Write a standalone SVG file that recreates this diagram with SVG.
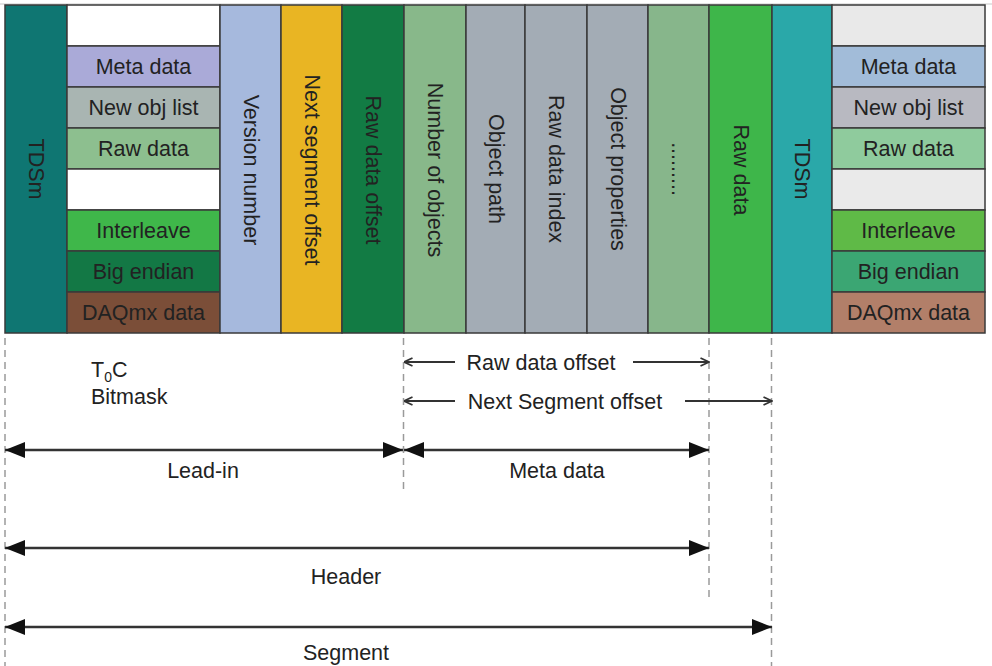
<svg xmlns="http://www.w3.org/2000/svg" width="992" height="666" viewBox="0 0 992 666">
  <style>
    .cell { stroke: #3a3a3a; stroke-width: 1.5; }
    .lbl { font-family: "Liberation Sans", Arial, sans-serif; font-size: 21.5px; fill: #222; }
    .mid { text-anchor: middle; }
    .dash { stroke: #9a9a9a; stroke-width: 1.5; stroke-dasharray: 7 5; fill: none; }
    .span { stroke: #333; stroke-width: 2.5; fill: none; marker-start: url(#solid); marker-end: url(#solid); }
    .ptr { stroke: #333; stroke-width: 2; fill: none; marker-end: url(#open); }
  </style>
  <defs>
    <marker id="solid" viewBox="0 0 20 16" refX="20" refY="8" markerWidth="20" markerHeight="16" markerUnits="userSpaceOnUse" orient="auto-start-reverse">
      <path d="M0,0 L20,8 L0,16 z" fill="#111"/>
    </marker>
    <marker id="open" viewBox="0 0 10 10" refX="9.5" refY="5" markerWidth="10" markerHeight="10" markerUnits="userSpaceOnUse" orient="auto">
      <path d="M1,1 L9.5,5 L1,9" fill="none" stroke="#333" stroke-width="1.8"/>
    </marker>
  </defs>

  <rect width="992" height="666" fill="#ffffff"/>
  <line x1="0" y1="4" x2="992" y2="4" stroke="#c8c8c8" stroke-width="1"/>

  <!-- lead-in marker + flag stack (left) -->
  <g id="tdsm-left">
    <rect class="cell" x="5" y="5" width="62" height="328" fill="#0f7672"/>
    <text class="lbl mid" transform="translate(36,169) rotate(90)" y="7">TDSm</text>
  </g>
  <g id="flags-left">
    <rect class="cell" x="67" y="5" width="153" height="41" fill="#ffffff"/>
    <rect class="cell" x="67" y="46" width="153" height="41" fill="#aaaad8"/>
    <rect class="cell" x="67" y="87" width="153" height="41" fill="#a9b5b2"/>
    <rect class="cell" x="67" y="128" width="153" height="41" fill="#8dbf8f"/>
    <rect class="cell" x="67" y="169" width="153" height="41" fill="#ffffff"/>
    <rect class="cell" x="67" y="210" width="153" height="41" fill="#3fb74a"/>
    <rect class="cell" x="67" y="251" width="153" height="41" fill="#137845"/>
    <rect class="cell" x="67" y="292" width="153" height="41" fill="#7b4e38"/>
    <text class="lbl mid" x="143.5" y="74">Meta data</text>
    <text class="lbl mid" x="143.5" y="115">New obj list</text>
    <text class="lbl mid" x="143.5" y="156">Raw data</text>
    <text class="lbl mid" x="143.5" y="238">Interleave</text>
    <text class="lbl mid" x="143.5" y="279">Big endian</text>
    <text class="lbl mid" x="143.5" y="320">DAQmx data</text>
  </g>
  <g id="version-number">
    <rect class="cell" x="220" y="5" width="61" height="328" fill="#a6b9dd"/>
    <text class="lbl mid" transform="translate(250.5,170) rotate(90)" y="7">Version number</text>
  </g>
  <g id="next-segment-offset">
    <rect class="cell" x="281" y="5" width="61" height="328" fill="#e9b523"/>
    <text class="lbl mid" transform="translate(311.5,170) rotate(90)" y="7">Next segment offset</text>
  </g>
  <g id="raw-data-offset">
    <rect class="cell" x="342" y="5" width="62" height="328" fill="#127b44"/>
    <text class="lbl mid" transform="translate(373,170) rotate(90)" y="7">Raw data offset</text>
  </g>

  <!-- metadata block -->
  <g id="number-of-objects">
    <rect class="cell" x="404" y="5" width="62" height="328" fill="#88b88a"/>
    <text class="lbl mid" transform="translate(435,170) rotate(90)" y="7">Number of objects</text>
  </g>
  <g id="object-path">
    <rect class="cell" x="466" y="5" width="59" height="328" fill="#a3acb5"/>
    <text class="lbl mid" transform="translate(495.5,169) rotate(90)" y="7">Object path</text>
  </g>
  <g id="raw-data-index">
    <rect class="cell" x="525" y="5" width="62" height="328" fill="#a3acb5"/>
    <text class="lbl mid" transform="translate(556,169) rotate(90)" y="7">Raw data index</text>
  </g>
  <g id="object-properties">
    <rect class="cell" x="587" y="5" width="61" height="328" fill="#a3acb5"/>
    <text class="lbl mid" transform="translate(617.5,169) rotate(90)" y="7">Object properties</text>
  </g>
  <g id="more-objects">
    <rect class="cell" x="648" y="5" width="61" height="328" fill="#87b68b"/>
    <text class="lbl mid" transform="translate(678.5,169) rotate(90)" y="7">.........</text>
  </g>
  <g id="raw-data">
    <rect class="cell" x="709" y="5" width="63" height="328" fill="#3eb64a"/>
    <text class="lbl mid" transform="translate(740.5,170) rotate(90)" y="7">Raw data</text>
  </g>

  <!-- start of the following segment -->
  <g id="tdsm-right">
    <rect class="cell" x="772" y="5" width="60" height="328" fill="#2aa8a9"/>
    <text class="lbl mid" transform="translate(802,169) rotate(90)" y="7">TDSm</text>
  </g>
  <g id="flags-right">
    <rect class="cell" x="832" y="5" width="153" height="41" fill="#e9e9e9"/>
    <rect class="cell" x="832" y="46" width="153" height="41" fill="#a2bcd9"/>
    <rect class="cell" x="832" y="87" width="153" height="41" fill="#b8b9c1"/>
    <rect class="cell" x="832" y="128" width="153" height="41" fill="#8fcb9d"/>
    <rect class="cell" x="832" y="169" width="153" height="41" fill="#eaeaea"/>
    <rect class="cell" x="832" y="210" width="153" height="41" fill="#5fba47"/>
    <rect class="cell" x="832" y="251" width="153" height="41" fill="#3ba673"/>
    <rect class="cell" x="832" y="292" width="153" height="41" fill="#b27f69"/>
    <text class="lbl mid" x="908.5" y="74">Meta data</text>
    <text class="lbl mid" x="908.5" y="115">New obj list</text>
    <text class="lbl mid" x="908.5" y="156">Raw data</text>
    <text class="lbl mid" x="908.5" y="238">Interleave</text>
    <text class="lbl mid" x="908.5" y="279">Big endian</text>
    <text class="lbl mid" x="908.5" y="320">DAQmx data</text>
  </g>

  <g id="toc-note">
    <text class="lbl" x="91" y="377">T<tspan font-size="14" dy="5">0</tspan><tspan dy="-5">C</tspan></text>
    <text class="lbl" x="91" y="404">Bitmask</text>
  </g>

  <!-- dimension lines -->
  <g id="connectors">
    <line class="dash" x1="5" y1="338" x2="5" y2="666"/>
    <line class="dash" x1="403.5" y1="338" x2="403.5" y2="490"/>
    <line class="dash" x1="709" y1="338" x2="709" y2="602"/>
    <line class="dash" x1="771.5" y1="338" x2="771.5" y2="666"/>

    <line class="ptr" x1="455" y1="362" x2="404" y2="362"/>
    <line class="ptr" x1="633" y1="362" x2="709" y2="362"/>
    <line class="ptr" x1="455" y1="401" x2="404" y2="401"/>
    <line class="ptr" x1="685" y1="401" x2="772" y2="401"/>

    <line class="span" x1="5" y1="450" x2="403" y2="450"/>
    <line class="span" x1="404" y1="450" x2="709" y2="450"/>
    <line class="span" x1="5" y1="548" x2="709" y2="548"/>
    <line class="span" x1="5" y1="627" x2="772" y2="627"/>
  </g>

  <g id="dimension-labels">
    <text class="lbl mid" x="541" y="370">Raw data offset</text>
    <text class="lbl mid" x="565" y="409">Next Segment offset</text>
    <text class="lbl mid" x="203" y="478">Lead-in</text>
    <text class="lbl mid" x="557" y="478">Meta data</text>
    <text class="lbl mid" x="346" y="584">Header</text>
    <text class="lbl mid" x="346" y="660">Segment</text>
  </g>
</svg>
